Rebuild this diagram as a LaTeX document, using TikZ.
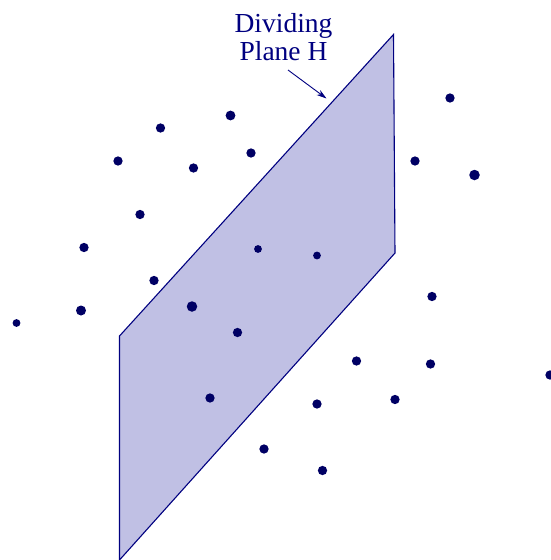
\documentclass[tikz,border=0pt]{standalone}
\usepackage{fontspec}
\setmainfont{Liberation Serif}
\usetikzlibrary{arrows.meta}
\definecolor{navy}{RGB}{0,0,128}
\definecolor{dotc}{RGB}{0,0,100}
\definecolor{planefill}{RGB}{192,192,228}
\begin{document}
\begin{tikzpicture}[x=1pt,y=-1pt,
  pt/.style={circle,fill=dotc,inner sep=0pt,minimum size=#1},
  pt/.default=7.5pt]
\useasboundingbox (0,0) rectangle (550,560);
\coordinate (p1) at (119.5,336);
\coordinate (p2) at (393.5,34.5);
\coordinate (p3) at (395,253);
\coordinate (p4) at (119.5,560);
\fill[planefill] (p1) -- (p2) -- (p3) -- (p4) -- cycle;
\draw[navy,line width=1.1pt] (p4) -- (p1) -- (p2) -- (p3) -- (p4);
\node[text=navy,font=\fontsize{27.5pt}{27.5pt}\selectfont,align=center] (lab) at (283.5,37) {Dividing\\Plane H};
\coordinate (as) at (288,70);
\coordinate (ae) at (326.5,98.5);
\draw[navy,line width=.9pt,-{Stealth[length=10pt,width=6pt,inset=3pt]}] (as) -- (ae);
\foreach \n/\x/\y/\s in {a/160.5/128/9.3pt,b/230.5/115.5/9.8pt,c/118/161/9.3pt,d/193.5/168/9.3pt,e/251/153/9.3pt,f/140/214.5/9.3pt,g/84/247.5/9.3pt,h/154/280.5/9.3pt,i/16.5/323/7.8pt,j/81/310.5/10pt,k/192/306.5/10.5pt,l/237.5/332.5/9.3pt,m/258/249/7.8pt,n/317/255.5/7.8pt,o/450/98/9.3pt,q/415/161/9.3pt,r/474.5/175/10.5pt,s/432/296.5/9.3pt,t/356.5/361/9.3pt,u/430.5/364/9.3pt,v/550/375/9.3pt,w/395/399.5/9.3pt,x/317/404/9.3pt,y/210/398/9.3pt,z/264/449/9.3pt,aa/322.5/470.5/9.3pt}
  \node[pt=\s] (\n) at (\x,\y) {};
\end{tikzpicture}
\end{document}
